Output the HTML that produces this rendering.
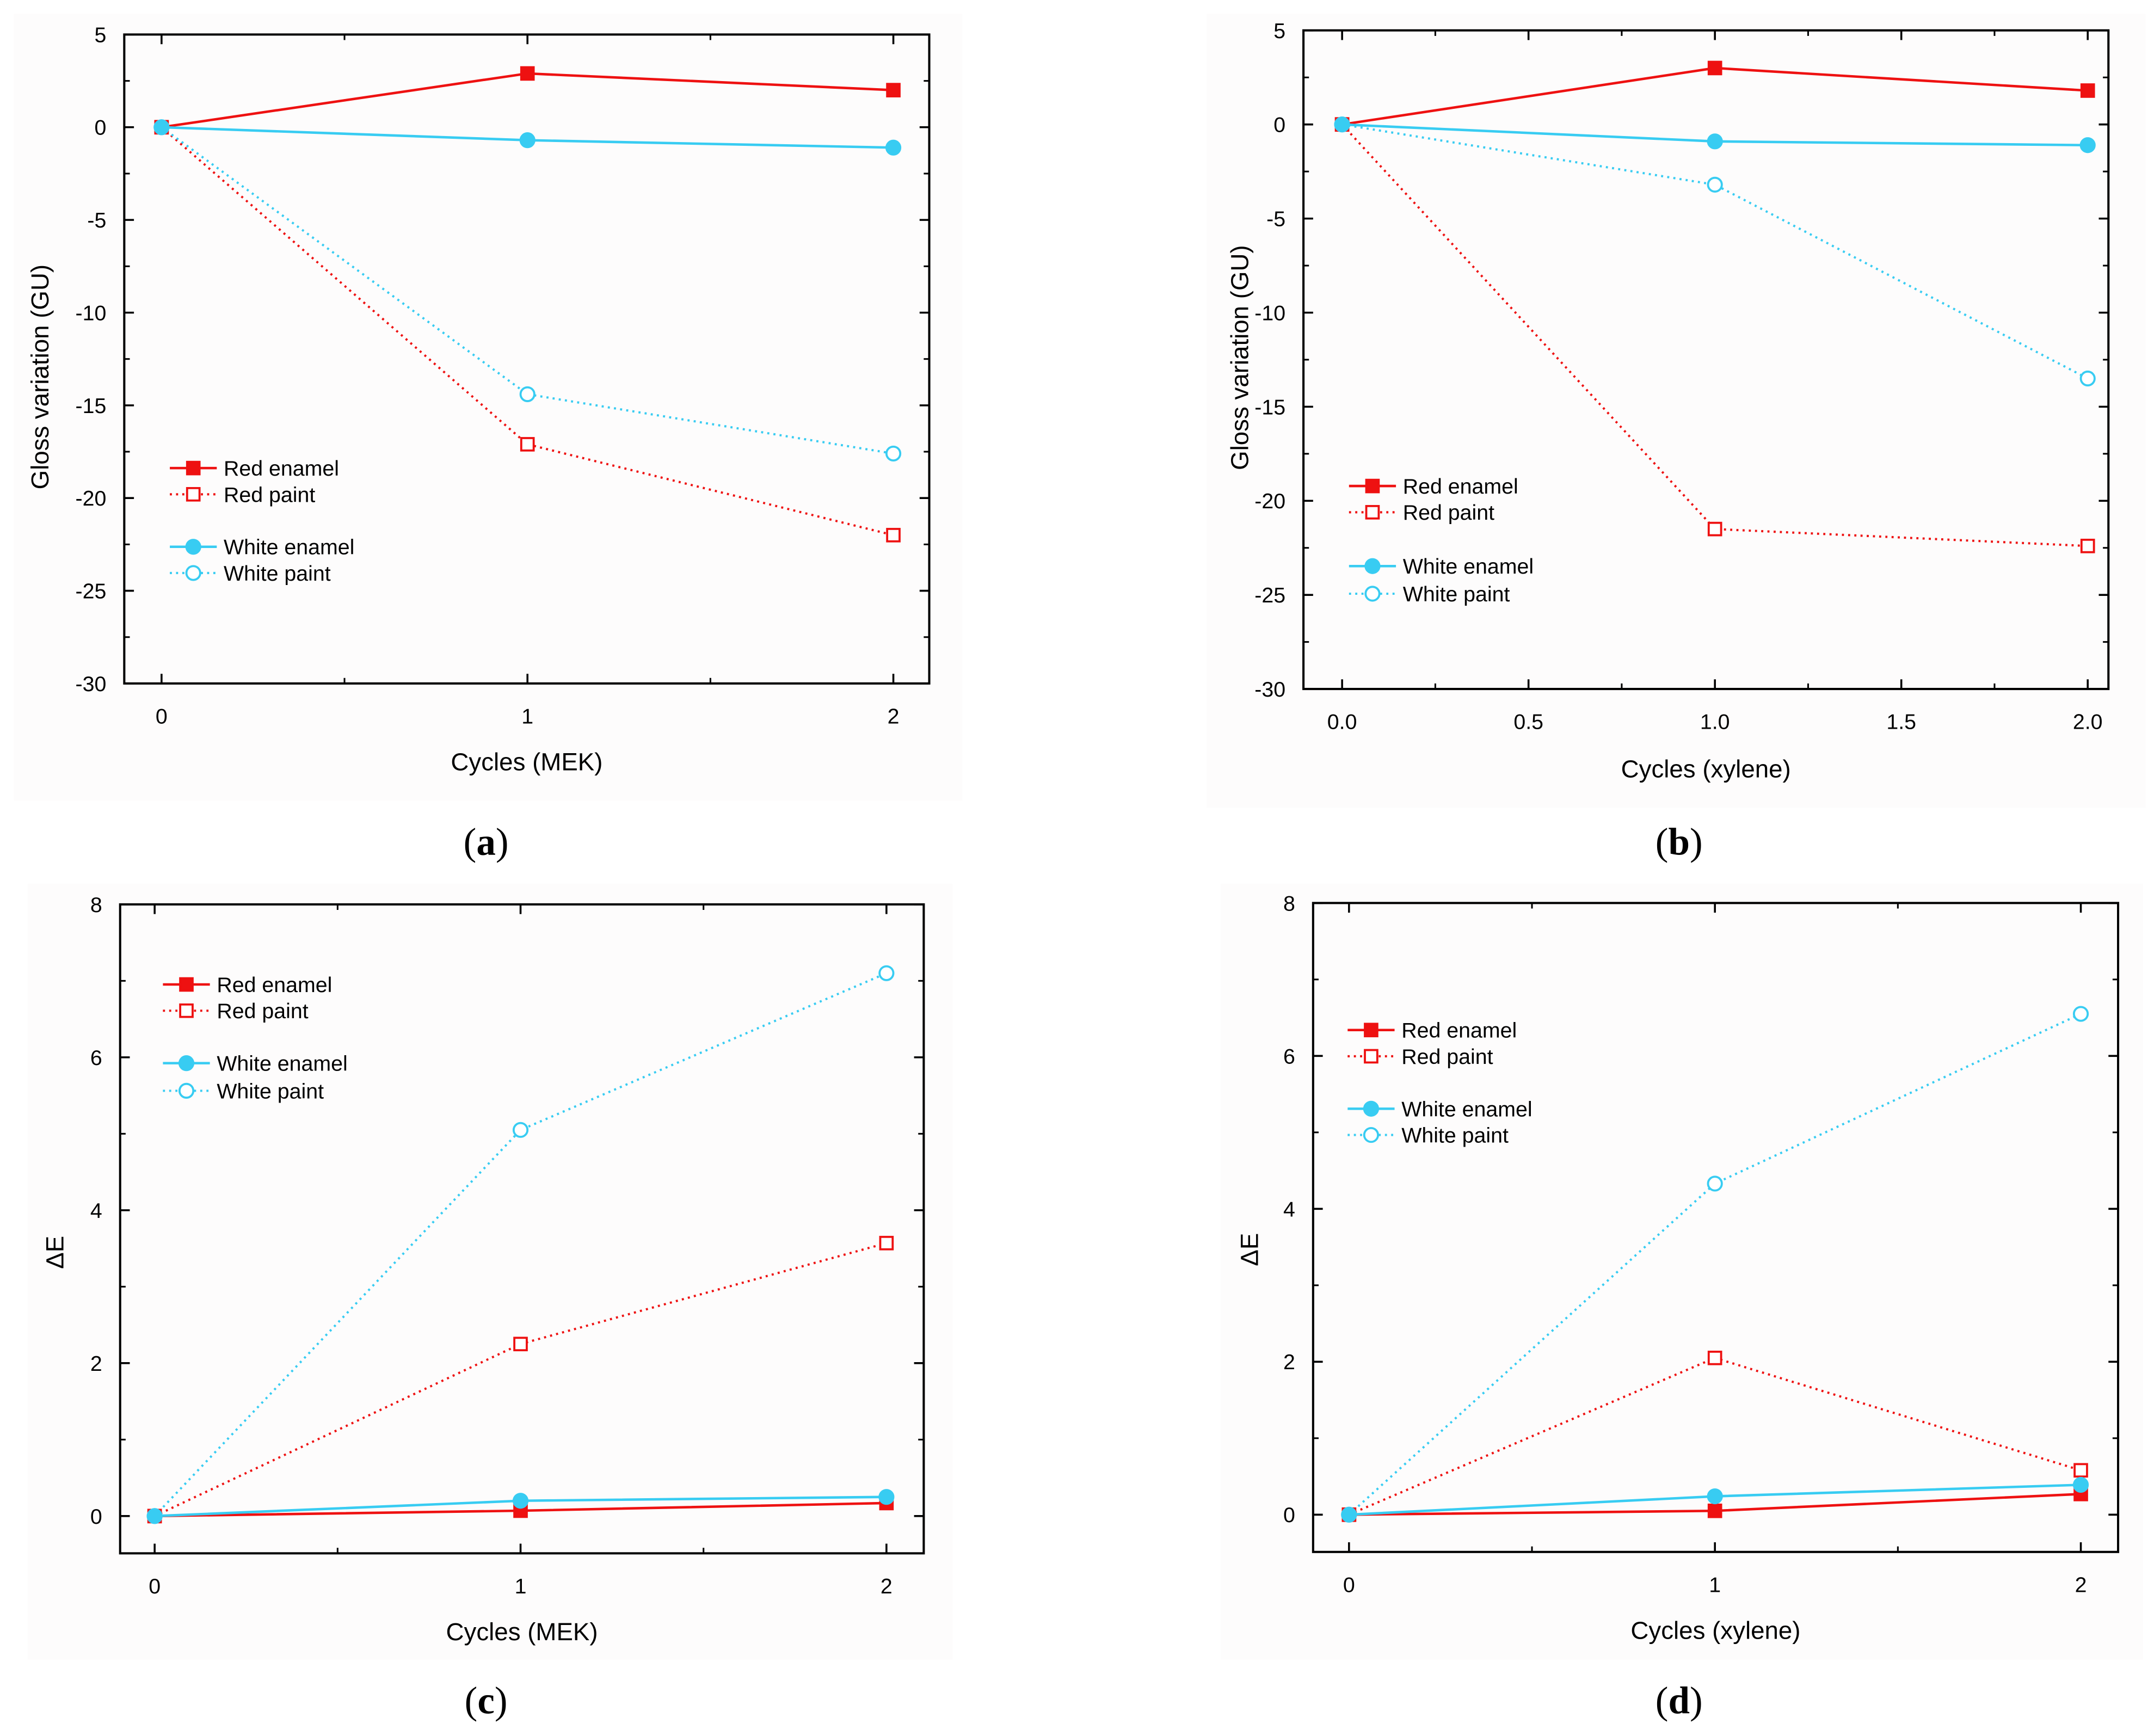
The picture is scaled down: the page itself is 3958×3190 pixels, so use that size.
<!DOCTYPE html>
<html><head><meta charset="utf-8"><style>
html,body{margin:0;padding:0;background:#fff;width:3958px;height:3190px;overflow:hidden}
svg text{font-family:"Liberation Sans",sans-serif}
</style></head><body>
<svg id="fig" width="3958" height="3190" viewBox="0 0 1560 1257.3" xmlns="http://www.w3.org/2000/svg">
<rect x="10" y="10" width="687" height="570" fill="#fdfcfc"/>
<rect x="874" y="10" width="680" height="575" fill="#fdfcfc"/>
<rect x="20" y="640" width="670" height="562" fill="#fdfcfc"/>
<rect x="884" y="640" width="668" height="562" fill="#fdfcfc"/>
</svg>
<script>
// Panel (a): gloss variation, MEK
const aCats=[0,1,2];
const aRedEnamel=[0,2.9,2.0];
const aRedPaint=[0,-17.1,-22.0];
const aWhiteEnamel=[0,-0.7,-1.1];
const aWhitePaint=[0,-14.4,-17.6];
const aYTicks=[5,0,-5,-10,-15,-20,-25,-30];
const aXTicks=[0,1,2];
// Panel (b): gloss variation, xylene
const bCats=[0,1,2];
const bRedEnamel=[0,3.0,1.8];
const bRedPaint=[0,-21.5,-22.4];
const bWhiteEnamel=[0,-0.9,-1.1];
const bWhitePaint=[0,-3.2,-13.5];
const bYTicks=[5,0,-5,-10,-15,-20,-25,-30];
const bXTicks=[0,0.5,1,1.5,2];
const bXTickLabels=["0.0","0.5","1.0","1.5","2.0"];
// Panel (c): ΔE, MEK
const cCats=[0,1,2];
const cRedEnamel=[0,0.07,0.17];
const cRedPaint=[0,2.25,3.57];
const cWhiteEnamel=[0,0.2,0.25];
const cWhitePaint=[0,5.05,7.1];
const cYTicks=[0,2,4,6,8];
const cXTicks=[0,1,2];
// Panel (d): ΔE, xylene
const dCats=[0,1,2];
const dRedEnamel=[0,0.05,0.27];
const dRedPaint=[0,2.05,0.58];
const dWhiteEnamel=[0,0.24,0.39];
const dWhitePaint=[0,4.33,6.55];
const dYTicks=[0,2,4,6,8];
const dXTicks=[0,1,2];

const RED="#ee1111", CYAN="#38ccf2";
const svg=document.getElementById('fig');
const NS="http://www.w3.org/2000/svg";
function mk(tag,attrs,parent){const e=document.createElementNS(NS,tag);for(const k in attrs)e.setAttribute(k,attrs[k]);(parent||svg).appendChild(e);return e;}

function panel(p){
  const g=mk('g',{});
  
  
  const X=v=>p.x0px+(v-p.xmin)/(p.xmax-p.xmin)*(p.x1px-p.x0px);
  const Y=v=>p.y0px+(v-p.ymin)/(p.ymax-p.ymin)*(p.y1px-p.y0px);
  const L=p.box[0],T=p.box[1],R=p.box[2],B=p.box[3];
  const frame=mk('rect',{x:L,y:T,width:R-L,height:B-T,fill:'none',stroke:'#000','stroke-width':1.6},g);
  
  
  p.yt.forEach((v,i)=>{
    const y=Y(v);
    mk('line',{x1:L,x2:L+7,y1:y,y2:y,stroke:'#000','stroke-width':1.4},g);
    mk('line',{x1:R,x2:R-7,y1:y,y2:y,stroke:'#000','stroke-width':1.4},g);
    const t=mk('text',{x:L-13,y:y+5.5,'text-anchor':'end','font-size':15.5},g);
    t.textContent=String(v);
    
    
    if(i<p.yt.length-1){const m=Y((v+p.yt[i+1])/2);
      mk('line',{x1:L,x2:L+4,y1:m,y2:m,stroke:'#000','stroke-width':1.2},g);
      mk('line',{x1:R,x2:R-4,y1:m,y2:m,stroke:'#000','stroke-width':1.2},g);}
  });
  p.xt.forEach((v,i)=>{
    const x=X(v);
    mk('line',{x1:x,x2:x,y1:B,y2:B-7,stroke:'#000','stroke-width':1.4},g);
    mk('line',{x1:x,x2:x,y1:T,y2:T+7,stroke:'#000','stroke-width':1.4},g);
    const t=mk('text',{x:x,y:B+29,'text-anchor':'middle','font-size':15.5},g);
    t.textContent=p.xl?p.xl[i]:String(v);
    
    
    if(i<p.xt.length-1){const m=X((v+p.xt[i+1])/2);
      mk('line',{x1:m,x2:m,y1:B,y2:B-4,stroke:'#000','stroke-width':1.2},g);
      mk('line',{x1:m,x2:m,y1:T,y2:T+4,stroke:'#000','stroke-width':1.2},g);}
  });
  const xl=mk('text',{x:(L+R)/2,y:p.xlabY,'text-anchor':'middle','font-size':18},g);
  xl.textContent=p.xlabel;
  
  
  const yl=mk('text',{x:0,y:0,'text-anchor':'middle','font-size':18,transform:`translate(${p.ylabX},${p.ylabCY}) rotate(-90)`},g);
  yl.textContent=p.ylabel;
  
  
  const series=[
    {n:'red-enamel',d:p.re,c:RED,dash:null,m:'sq',f:true},
    {n:'red-paint',d:p.rp,c:RED,dash:'1.5 3',m:'sq',f:false},
    {n:'white-enamel',d:p.we,c:CYAN,dash:null,m:'ci',f:true},
    {n:'white-paint',d:p.wp,c:CYAN,dash:'1.5 3',m:'ci',f:false}];
  function marker(x,y,s,parent){
    let e;
    if(s.m==='sq') e=mk('rect',{x:x-4.5,y:y-4.5,width:9,height:9,fill:s.f?s.c:'#fff',stroke:s.c,'stroke-width':1.5},parent);
    else e=mk('circle',{cx:x,cy:y,r:5,fill:s.f?s.c:'#fff',stroke:s.c,'stroke-width':1.5},parent);
    return e;
  }
  [1,3,0,2].forEach(k=>{
    const s=series[k];
    const sg=mk('g',{},g);
    
    
    const pts=p.cats.map((c,i)=>X(c)+','+Y(s.d[i])).join(' ');
    const pl=mk('polyline',{points:pts,fill:'none',stroke:s.c,'stroke-width':s.dash?1.6:1.8},sg);
    if(s.dash)pl.setAttribute('stroke-dasharray',s.dash);
    p.cats.forEach((c,i)=>{const m=marker(X(c),Y(s.d[i]),s,sg);
      
      });
  });
  const lg=mk('g',{},g);
  
  
  series.forEach((s,i)=>{
    const y=p.legY[i];
    const eg=mk('g',{},lg);
    
    
    const ln=mk('line',{x1:p.legX,x2:p.legX+34,y1:y,y2:y,stroke:s.c,'stroke-width':s.dash?1.6:1.8},eg);
    if(s.dash)ln.setAttribute('stroke-dasharray',s.dash);
    marker(p.legX+17,y,s,eg);
    const t=mk('text',{x:p.legX+39,y:y+5.5,'font-size':15.5},eg);
    t.textContent=['Red enamel','Red paint','White enamel','White paint'][i];
  });
  const cap=mk('text',{x:p.capX,y:p.capY,'text-anchor':'middle','font-size':28},g);
  cap.setAttribute('style','font-family:"Liberation Serif",serif');
  cap.innerHTML='(<tspan font-weight="bold">'+p.id+'</tspan>)';
  
  
}

panel({id:'a',box:[90,25,673,495],xmin:0,xmax:2,x0px:117,x1px:647,ymin:5,ymax:-30,y0px:25,y1px:495,
  yt:aYTicks,xt:aXTicks,cats:aCats,re:aRedEnamel,rp:aRedPaint,we:aWhiteEnamel,wp:aWhitePaint,
  xlabel:'Cycles (MEK)',xlabY:558,ylabel:'Gloss variation (GU)',ylabX:35,ylabCY:273,
  legX:123,legY:[339,358,396,415],capX:352,capY:619});
panel({id:'b',box:[944,22,1527,499],xmin:0,xmax:2,x0px:972,x1px:1512,ymin:5,ymax:-30,y0px:22,y1px:499,
  yt:bYTicks,xt:bXTicks,xl:bXTickLabels,cats:bCats,re:bRedEnamel,rp:bRedPaint,we:bWhiteEnamel,wp:bWhitePaint,
  xlabel:'Cycles (xylene)',xlabY:563,ylabel:'Gloss variation (GU)',ylabX:904,ylabCY:259,
  legX:977,legY:[352,371,410,430],capX:1216,capY:619});
panel({id:'c',box:[87,655,669,1125],xmin:0,xmax:2,x0px:112,x1px:642,ymin:8,ymax:0,y0px:655,y1px:1098,
  yt:cYTicks.slice().reverse(),xt:cXTicks,cats:cCats,re:cRedEnamel,rp:cRedPaint,we:cWhiteEnamel,wp:cWhitePaint,
  xlabel:'Cycles (MEK)',xlabY:1188,ylabel:'ΔE',ylabX:46,ylabCY:907,
  legX:118,legY:[713,732,770,790],capX:352,capY:1241});
panel({id:'d',box:[951,654,1534,1124],xmin:0,xmax:2,x0px:977,x1px:1507,ymin:8,ymax:0,y0px:654,y1px:1097,
  yt:dYTicks.slice().reverse(),xt:dXTicks,cats:dCats,re:dRedEnamel,rp:dRedPaint,we:dWhiteEnamel,wp:dWhitePaint,
  xlabel:'Cycles (xylene)',xlabY:1187,ylabel:'ΔE',ylabX:911,ylabCY:905,
  legX:976,legY:[746,765,803,822],capX:1216,capY:1241});
</script>
</body></html>
